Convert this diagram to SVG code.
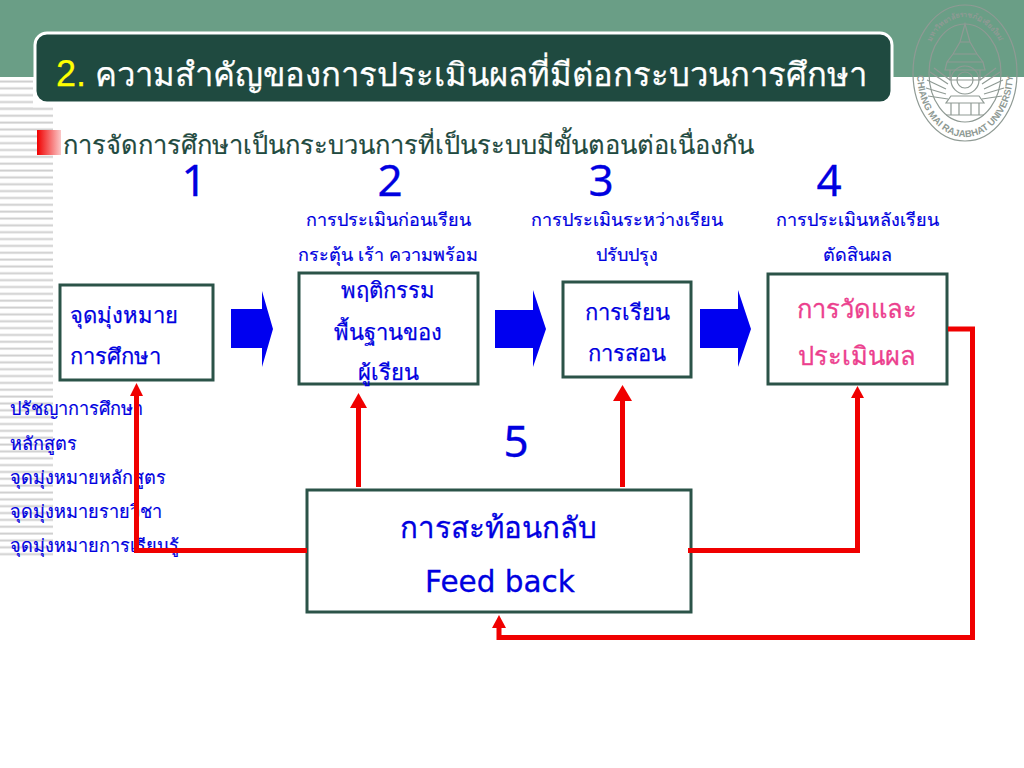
<svg xmlns="http://www.w3.org/2000/svg" xmlns:xlink="http://www.w3.org/1999/xlink" width="1024" height="768" viewBox="0 0 1024 768">
<style>
text{font-family:"Noto Sans","Liberation Sans","Noto Sans CJK SC",sans-serif;fill:#0000e0}
.box{fill:#fff;stroke:#2b5348;stroke-width:3}
.num{font-size:44px;text-anchor:middle;stroke:#0000e0;stroke-width:.3}
.cap{font-size:18px;text-anchor:middle;stroke:#0000e0;stroke-width:.2}
.side{font-size:18.100px;stroke:#0000e0;stroke-width:.2}
.bt{font-size:22px;stroke:#0000e0;stroke-width:.25}
.mid{text-anchor:middle}
.red{fill:none;stroke:#f00000;stroke-width:5;stroke-linejoin:miter}
.blk{fill:#0000f0}
.head{fill:#f00000}
.lg{fill:none;stroke:#8f9a94;stroke-width:1.2}
.lgt{fill:#8f9a94;font-family:"Liberation Sans",sans-serif;font-weight:bold}
</style>
<defs>
<pattern id="st" width="10" height="6.85" patternUnits="userSpaceOnUse" x="0" y="78"><rect width="10" height="2" y="2.500" fill="#cfcfcf"/></pattern>
<linearGradient id="bul"><stop offset="0" stop-color="#f00000"/><stop offset="1" stop-color="#fbc8c8"/></linearGradient>
<path id="arcB" d="M917 73A48 64 0 0 0 1013 73"/>
<path id="arcT" d="M925 60A41 55 0 0 1 1005 60"/>
</defs>
<rect id="header-band" width="1024" height="77" fill="#6a9e86"/>
<g id="stripes"><rect x="0" y="78" width="33" height="30" fill="url(#st)"/><rect x="0" y="106" width="53" height="450" fill="url(#st)"/></g>
<g id="emblem">
<ellipse class="lg" cx="965" cy="73" rx="52" ry="68" stroke-width="1.6"/>
<ellipse class="lg" cx="965" cy="73" rx="36" ry="49"/>
<path class="lg" d="M965 24L960 42 953 54 947 62 945 70H985L983 62 977 54 970 42ZM960 42H970M953 54H977M947 62H983M950 70V80H980V70"/>
<path class="lg" d="M930 72L948 84M927 80L946 89M926 88L946 94M928 96L948 99M1000 72L982 84M1003 80L984 89M1004 88L984 94M1002 96L982 99M934 68L950 80M996 68L980 80"/>
<circle class="lg" cx="965" cy="80" r="14"/><circle class="lg" cx="965" cy="80" r="8"/>
<path class="lg" d="M946 103H984L979 96H951ZM951 103V115M979 103V115M959 103V115M971 103V115M946 115H984"/>
<text class="lgt" font-size="9.500"><textPath xlink:href="#arcB" href="#arcB" startOffset="50%" text-anchor="middle">CHIANG MAI RAJABHAT UNIVERSITY</textPath></text>
<text class="lgt" font-size="7"><textPath xlink:href="#arcT" href="#arcT" startOffset="50%" text-anchor="middle">มหาวิทยาลัยราชภัฏเชียงใหม่</textPath></text>
</g>
<g id="title"><rect x="35" y="33" width="857" height="70" rx="12" fill="#1f4a40" stroke="#fff" stroke-width="3"/>
<text x="56" y="86" font-size="32.800" style="fill:#fff;stroke:#fff;stroke-width:.25"><tspan font-size="36" style="fill:#ff0;stroke:#ff0;font-family:'Liberation Sans',sans-serif">2.</tspan> ความสำคัญของการประเมินผลที่มีต่อกระบวนการศึกษา</text></g>
<rect id="bullet" x="37" y="130" width="24" height="25" fill="url(#bul)"/>
<text id="subtitle" x="63" y="154" font-size="25.500" style="fill:#1f4a40;stroke:#1f4a40;stroke-width:.2">การจัดการศึกษาเป็นกระบวนการที่เป็นระบบมีขั้นตอนต่อเนื่องกัน</text>
<g id="numbers"><text class="num" x="194" y="196">1</text><text class="num" x="390" y="196">2</text><text class="num" x="601" y="196">3</text><text class="num" x="829" y="196">4</text><text class="num" x="516" y="457">5</text></g>
<g id="captions">
<text class="cap" x="388" y="226">การประเมินก่อนเรียน</text><text class="cap" x="388" y="261">กระตุ้น เร้า ความพร้อม</text>
<text class="cap" x="627" y="226">การประเมินระหว่างเรียน</text><text class="cap" x="627" y="261">ปรับปรุง</text>
<text class="cap" x="857" y="226">การประเมินหลังเรียน</text><text class="cap" x="857" y="261">ตัดสินผล</text>
</g>
<g id="side-list">
<text class="side" x="10" y="415">ปรัชญาการศึกษา</text><text class="side" x="10" y="450">หลักสูตร</text><text class="side" x="10" y="484">จุดมุ่งหมายหลักสูตร</text><text class="side" x="10" y="518">จุดมุ่งหมายรายวิชา</text><text class="side" x="10" y="552">จุดมุ่งหมายการเรียนรู้</text>
</g>
<g id="node-aims"><rect class="box" x="60" y="285" width="153" height="95"/><text class="bt" x="70" y="323">จุดมุ่งหมาย</text><text class="bt" x="70" y="364">การศึกษา</text></g>
<g id="node-baseline"><rect class="box" x="299" y="273" width="179" height="111"/><text class="bt mid" x="388" y="298">พฤติกรรม</text><text class="bt mid" x="388" y="340">พื้นฐานของ</text><text class="bt mid" x="388" y="380">ผู้เรียน</text></g>
<g id="node-teaching"><rect class="box" x="563" y="282" width="128" height="95"/><text class="bt mid" x="627" y="320">การเรียน</text><text class="bt mid" x="627" y="361">การสอน</text></g>
<g id="node-eval"><rect class="box" x="768" y="274" width="179" height="110"/><text class="mid" x="857" y="318" font-size="25.500" style="fill:#ec3f8e;stroke:#ec3f8e;stroke-width:.3">การวัดและ</text><text class="mid" x="857" y="365" font-size="25.500" style="fill:#ec3f8e;stroke:#ec3f8e;stroke-width:.3">ประเมินผล</text></g>
<g id="node-feedback"><rect class="box" x="307" y="490" width="384" height="122"/><text class="mid" x="498" y="538" font-size="29.500" stroke="#0000e0" stroke-width=".3">การสะท้อนกลับ</text><text class="mid" x="500" y="592" font-size="29.500" stroke="#0000e0" stroke-width=".3" style="font-family:'DejaVu Sans',sans-serif">Feed back</text></g>
<g id="connectors">
<path class="blk" d="M231 309H262V291L273 329 262 367V348H231Z"/>
<path class="blk" d="M495 310H533V290L546 329 533 367V348H495Z"/>
<path class="blk" d="M700 309H738V290L751 329 738 367V348H700Z"/>
<path class="red" d="M307 550.500H136.500V393"/><path class="head" d="M136.500 383L143 396H130Z"/>
<path class="red" d="M358.500 487V405"/><path class="head" d="M358.500 393L367 408H350Z"/>
<path class="red" d="M622.500 487V398"/><path class="head" d="M622.500 385L632 401H613Z"/>
<path class="red" d="M688 550.500H857.500V395"/><path class="head" d="M857.500 386L864 398H851Z"/>
<path class="red" d="M948 329H972.500V637.500H499V626"/><path class="head" d="M499 615L506 628H492Z"/>
</g>
</svg>
